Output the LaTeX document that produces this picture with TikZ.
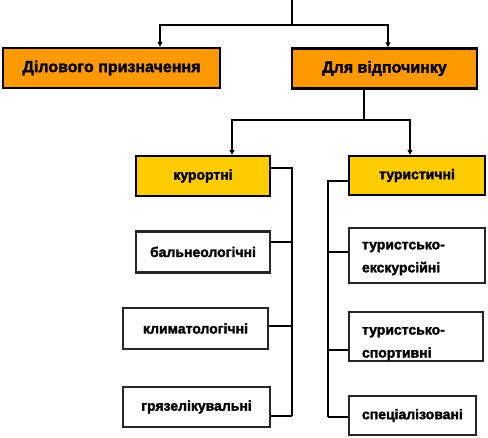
\documentclass[tikz,border=0pt]{standalone}
\usepackage{fontspec}
\setmainfont{Liberation Sans}[BoldFeatures={FakeBold=2}]
\usepackage{xcolor}
\usetikzlibrary{arrows.meta,positioning}

\definecolor{orangebox}{HTML}{FF9900}
\definecolor{yellowbox}{HTML}{FFCC00}

\begin{document}
\begin{tikzpicture}[
    x=1pt, y=1pt,
    >={Triangle[length=5pt,width=5pt]},
    block/.style={draw, line width=2.4pt, inner sep=0pt, align=center, font=\bfseries},
    top/.style={block, fill=orangebox, minimum height=40pt, font=\fontsize{16}{18}\selectfont\bfseries},
    kind/.style={block, fill=yellowbox, minimum height=40pt, font=\fontsize{14}{16}\selectfont\bfseries},
    sub/.style={block, fill=white, draw=black!85, minimum height=41pt, font=\fontsize{14}{16}\selectfont\bfseries},
    subl/.style={sub, align=left, text width=#1, font=\fontsize{14}{23}\selectfont\bfseries},
    wire/.style={line width=2pt},
]
\useasboundingbox (0,0) rectangle (488,438);

% Top level
\coordinate (root) at (292,438);
\node[top, minimum width=217pt] (dilov) at (111.5,370) {Ділового призначення};
\node[top, minimum width=185pt] (vidp) at (384.5,369.5) {Для відпочинку};

% Second level
\node[kind, minimum width=134pt] (kurort) at (203,262) {курортні};
\node[kind, minimum width=136pt, minimum height=39pt] (turyst) at (417,262.5) {туристичні};

% Resort types
\node[sub, minimum width=134pt, below=33pt of kurort] (baln) {бальнеологічні};
\node[sub, minimum width=145pt] (klim) at (195.5,109.5) {климатологічні};
\node[sub, minimum width=147pt, minimum height=40pt] (gryaz) at (196.5,31) {грязелікувальні};

% Tourist types
\node[subl=110pt, minimum width=136pt, minimum height=55pt, inner xsep=13pt, text height=13.5pt] (ekskurs) at (417,182.5) {туристсько-\\екскурсійні};
\node[subl=108pt, minimum width=134pt, minimum height=49pt, inner xsep=13pt, text height=22pt] (sport) at (416,101.5) {туристсько-\\спортивні};
\node[subl=101pt, minimum width=127pt, minimum height=39pt, inner xsep=13pt] (spec) at (412.5,22.5) {спеціалізовані};

% Connectors
\coordinate (split1) at (292,413);
\coordinate (split2) at (364,318);
\draw[wire] (root) -- (split1);
\draw[wire,->] (split1) -| (dilov.north -| 160,0);
\draw[wire,->] (split1) -| (vidp.north -| 388,0);
\draw[wire] ([xshift=-20.5pt]vidp.south) -- (split2);
\draw[wire,->] (split2) -| (kurort.north -| 232,0);
\draw[wire,->] (split2) -| (turyst.north -| 410,0);

% Left bracket
\coordinate (lbar) at (292,270);
\draw[wire] (kurort.east |- lbar) -- (lbar) -- (292,22);
\draw[wire] (baln.east |- 0,196) -- (292,196);
\draw[wire] (klim.east |- 0,112) -- (292,112);
\draw[wire] (gryaz.east |- 0,22) -- (292,22);

% Right bracket
\coordinate (rbar) at (328,257);
\draw[wire] (turyst.west |- rbar) -- (rbar) -- (328,21);
\draw[wire] (ekskurs.west |- 0,186) -- (328,186);
\draw[wire] (sport.west |- 0,88) -- (328,88);
\draw[wire] (spec.west |- 0,21) -- (328,21);
\end{tikzpicture}
\end{document}
